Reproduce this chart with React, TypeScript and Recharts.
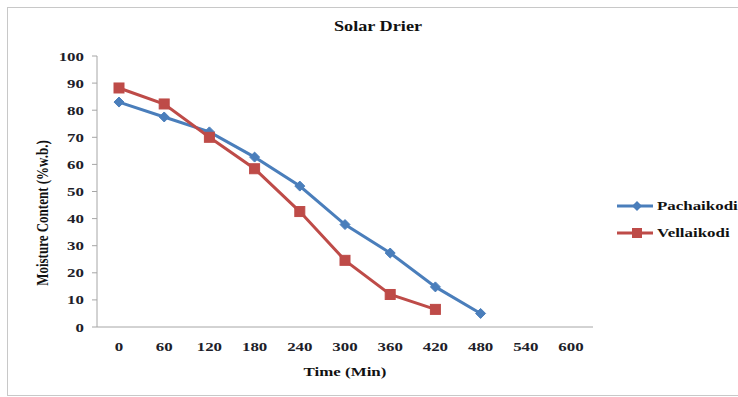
import { LineChart, Line, XAxis, YAxis } from "recharts"

const times = ["0", "60", "120", "180", "240", "300", "360", "420", "480", "540", "600"]
const pachaikodi: (number | null)[] = [83, 77.5, 72, 62.7, 52, 37.8, 27.3, 14.8, 5, null, null]
const vellaikodi: (number | null)[] = [88.2, 82.3, 70, 58.4, 42.6, 24.6, 12, 6.5, null, null, null]
const yTicks = [0, 10, 20, 30, 40, 50, 60, 70, 80, 90, 100]
const seriesNames = ["Pachaikodi", "Vellaikodi"]

const BLUE = "#4a7ebb"
const RED = "#be4b48"
const FONT = "'Liberation Serif', 'DejaVu Serif', serif"
const STRETCH = 1.3 // the source picture is stretched sideways

const data = times.map((t, i) => ({ time: t, Pachaikodi: pachaikodi[i], Vellaikodi: vellaikodi[i] }))

const axisLine = { stroke: "#a6a6a6" }

function XTick(props: any) {
  const { x, y, payload } = props
  return (
    <g transform={`translate(${x},${y + 16}) scale(${STRETCH},1)`}>
      <text x={0} y={0} textAnchor="middle" fontFamily={FONT} fontWeight={700} fontSize={13} fill="#1e1e2a">
        {payload.value}
      </text>
    </g>
  )
}

function YTick(props: any) {
  const { x, y, payload } = props
  return (
    <g transform={`translate(${x - 6},${y + 4.5}) scale(${STRETCH},1)`}>
      <text x={0} y={0} textAnchor="end" fontFamily={FONT} fontWeight={700} fontSize={13} fill="#1e1e2a">
        {payload.value}
      </text>
    </g>
  )
}

function Diamond(props: any) {
  const { cx, cy, index } = props
  if (cx == null || cy == null) return <g key={index} />
  const r = 5
  return (
    <polygon
      key={index}
      points={`${cx},${cy - r} ${cx + r},${cy} ${cx},${cy + r} ${cx - r},${cy}`}
      fill={BLUE}
      stroke={BLUE}
    />
  )
}

function Square(props: any) {
  const { cx, cy, index } = props
  if (cx == null || cy == null) return <g key={index} />
  const s = 5
  return <rect key={index} x={cx - s} y={cy - s} width={s * 2} height={s * 2} fill={RED} stroke={RED} />
}

function ChartLegend() {
  const colors = [BLUE, RED]
  return (
    <div
      style={{
        position: "absolute",
        left: 616,
        top: 192,
        fontFamily: FONT,
        fontWeight: 700,
        fontSize: 13,
        color: "#111",
      }}
    >
      {seriesNames.map((name, i) => (
        <div key={name} style={{ display: "flex", alignItems: "center", height: 27 }}>
          <svg width={38} height={12} style={{ marginRight: 3 }}>
            <line x1={1} y1={6} x2={37} y2={6} stroke={colors[i]} strokeWidth={3} />
            {i === 0 ? (
              <polygon points="21,1 26,6 21,11 16,6" fill={colors[i]} />
            ) : (
              <rect x={16} y={1} width={10} height={10} fill={colors[i]} />
            )}
          </svg>
          <span style={{ display: "inline-block", transform: `scaleX(${STRETCH})`, transformOrigin: "left center" }}>
            {name}
          </span>
        </div>
      ))}
    </div>
  )
}

const labelStyle = {
  position: "absolute" as const,
  textAlign: "center" as const,
  fontFamily: FONT,
  fontWeight: 700,
  fontSize: 13,
  color: "#111",
}

export default function App() {
  return (
    <div
      style={{
        position: "absolute",
        left: 0,
        top: 0,
        width: 738,
        height: 397,
        background: "#fff",
        fontFamily: FONT,
        overflow: "hidden",
      }}
    >
      <div
        style={{
          position: "absolute",
          left: 7,
          top: 7,
          width: 740,
          height: 387,
          border: "1px solid #c8c8c8",
        }}
      />
      <div style={{ ...labelStyle, left: 278, width: 200, top: 19, fontSize: 14, transform: `scaleX(${STRETCH})` }}>
        Solar Drier
      </div>
      <div style={{ ...labelStyle, left: 245, width: 200, top: 364, transform: `scaleX(${STRETCH})` }}>
        Time (Min)
      </div>
      <div
        style={{
          ...labelStyle,
          left: -57,
          width: 200,
          top: 205,
          transform: `rotate(-90deg) scaleY(${STRETCH})`,
        }}
      >
        Moisture Content (%w.b.)
      </div>
      <div style={{ position: "absolute", left: 0, top: 0 }}>
        <LineChart
          width={738}
          height={397}
          data={data}
          margin={{ top: 56, right: 145, bottom: 40, left: 57 }}
          style={{ fontFamily: FONT }}
        >
          <XAxis
            dataKey="time"
            height={30}
            tick={XTick}
            axisLine={axisLine}
            tickLine={false}
            interval={0}
            padding={{ left: 22, right: 22 }}
          />
          <YAxis
            width={40}
            domain={[0, 100]}
            ticks={yTicks}
            tick={YTick}
            axisLine={axisLine}
            tickLine={axisLine}
            tickSize={5}
            interval={0}
          />
          <Line
            dataKey="Pachaikodi"
            stroke={BLUE}
            strokeWidth={3}
            dot={Diamond}
            isAnimationActive={false}
            connectNulls={false}
          />
          <Line
            dataKey="Vellaikodi"
            stroke={RED}
            strokeWidth={3}
            dot={Square}
            isAnimationActive={false}
            connectNulls={false}
          />
        </LineChart>
      </div>
      <ChartLegend />
    </div>
  )
}
